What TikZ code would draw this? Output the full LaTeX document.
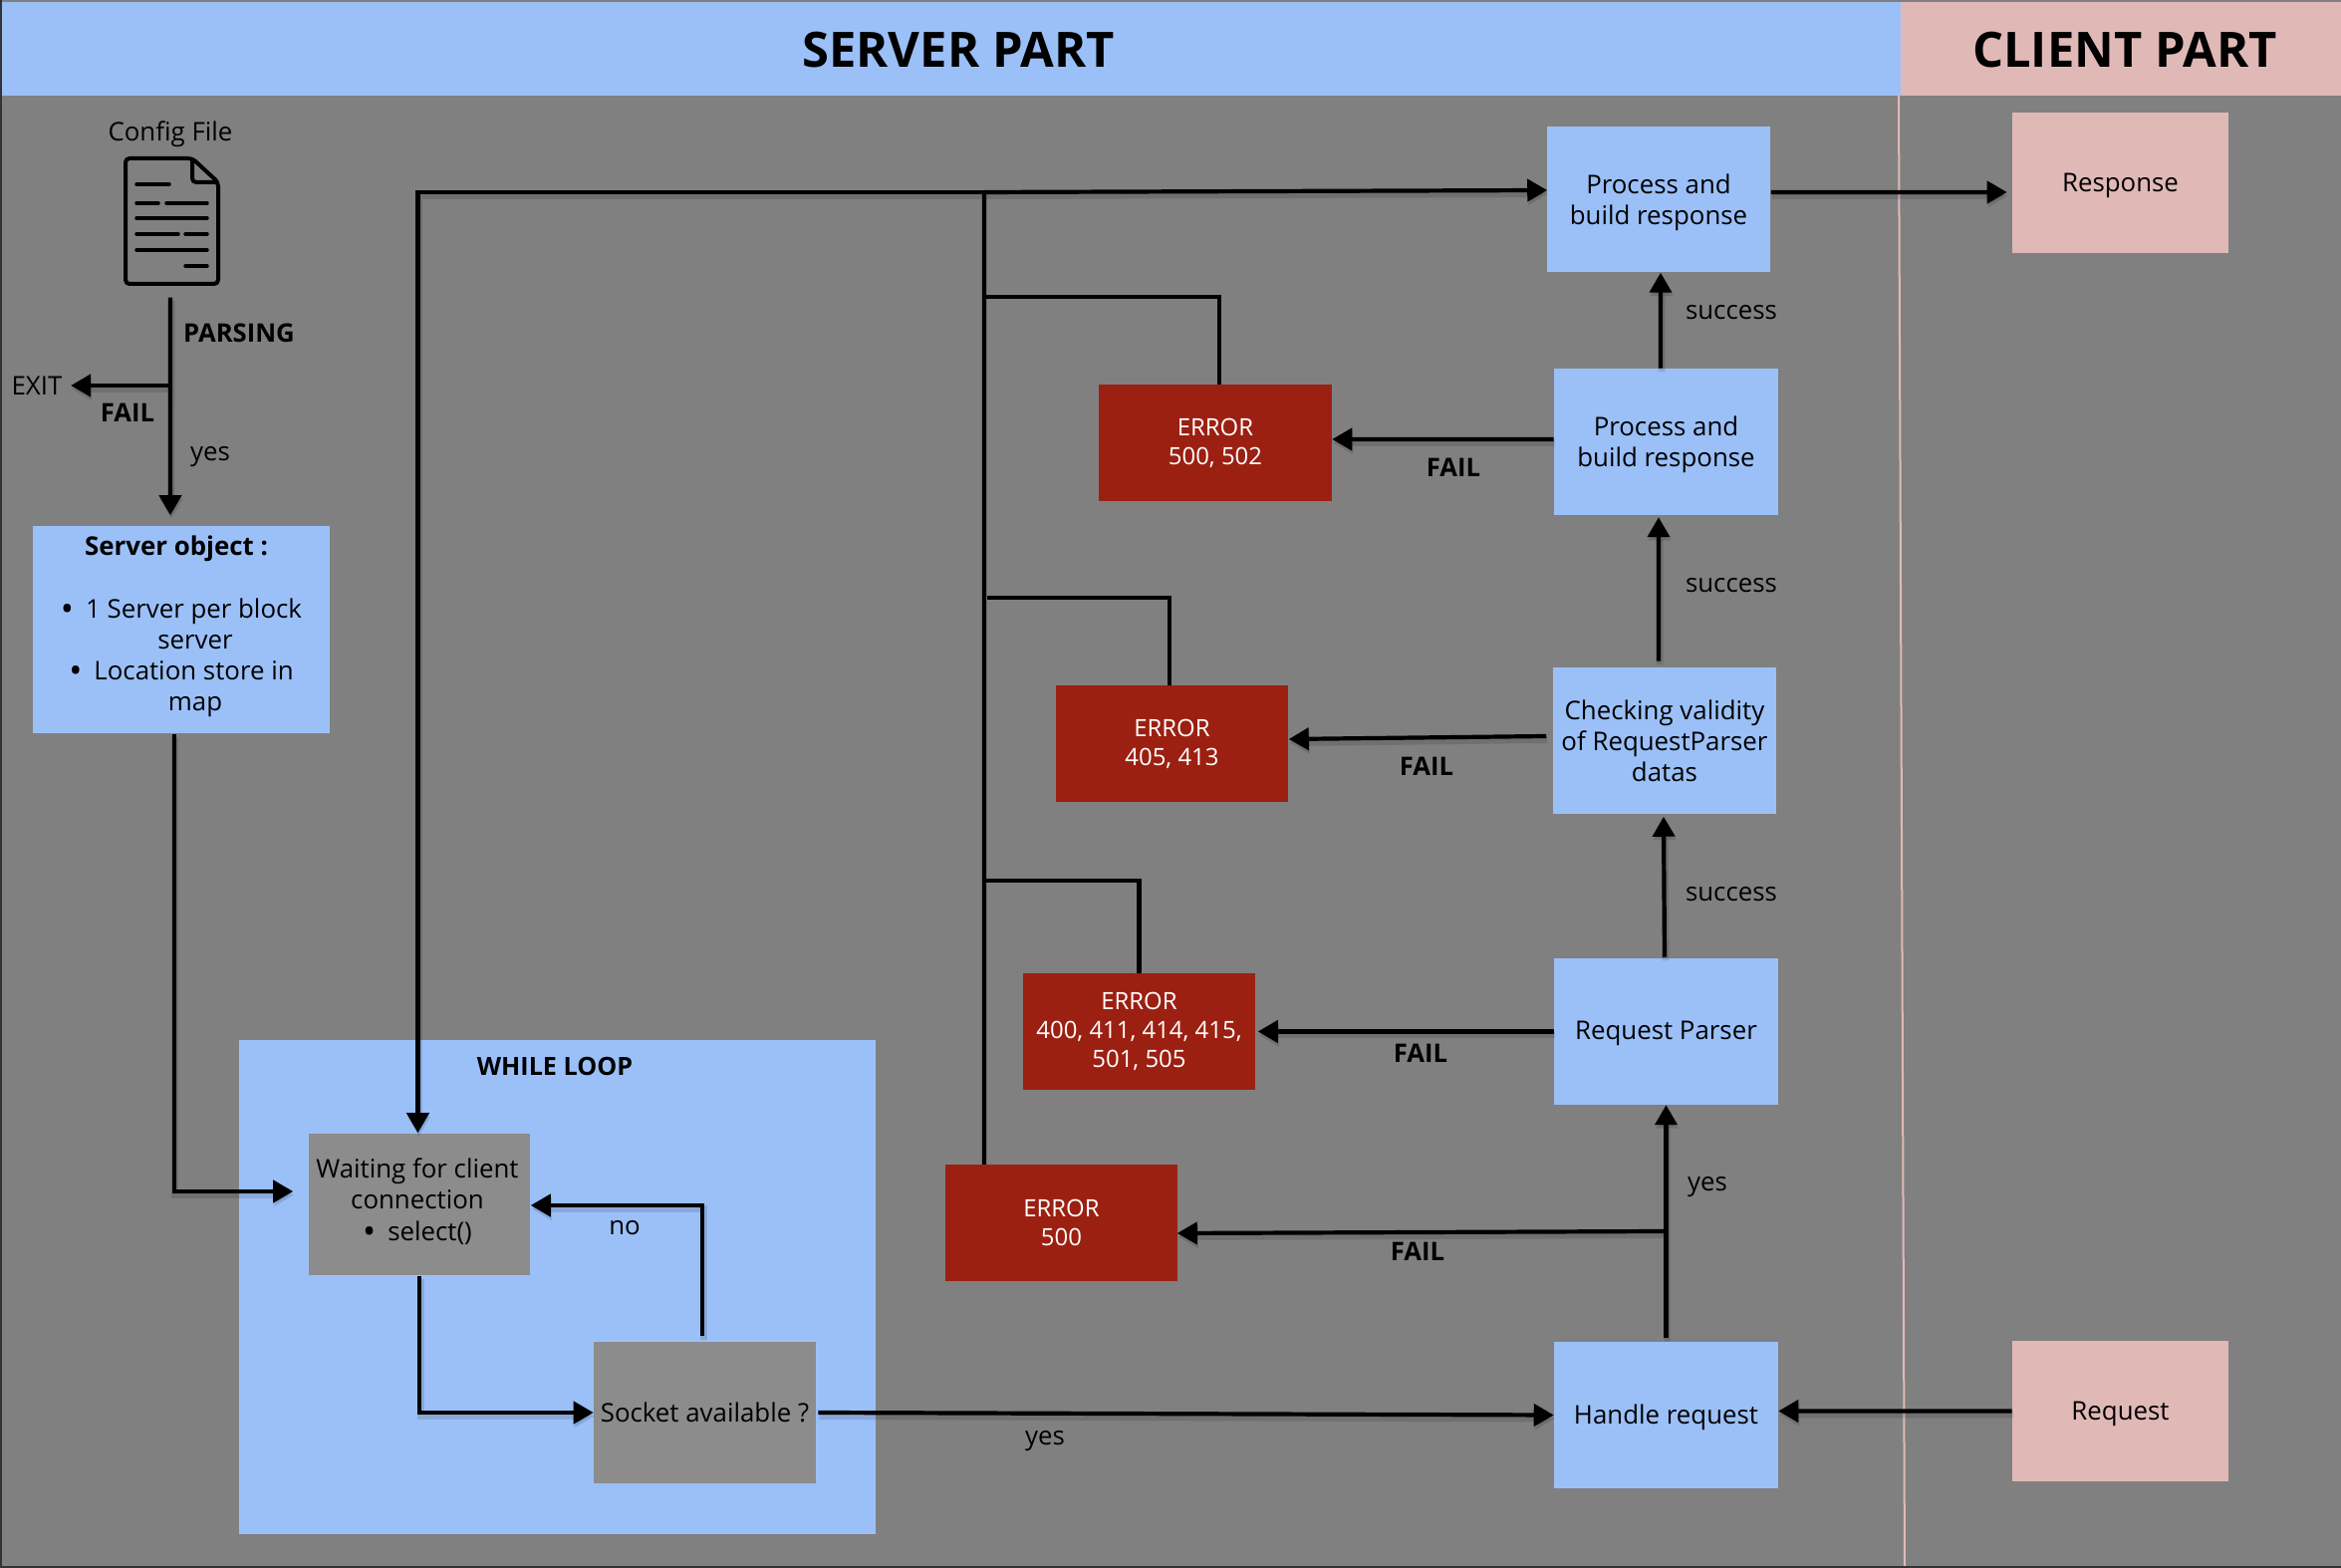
\documentclass[tikz,border=0pt]{standalone}
\usepackage{fontspec}
\setmainfont{Open Sans}
\usetikzlibrary{arrows.meta}

\newcommand{\bigdot}{\raisebox{-0.9pt}{\scalebox{1.35}{\textbullet}}}

\tikzset{
    flow/.style={-{Triangle[length=0.20cm,width=0.22cm]},line width=0.042cm,black,
        preaction={draw=black,opacity=0.12,line width=0.07cm,transform canvas={shift={(0.01cm,-0.035cm)}}}},
    wire/.style={line width=0.042cm,black},
    lbl/.style={inner sep=0pt,text depth=0pt,font=\fontsize{7.35}{8.9}\selectfont},
    boldlbl/.style={inner sep=0pt,font=\fontsize{7.3}{8.9}\selectfont\bfseries},
    head/.style={inner sep=0pt,font=\fontsize{13.9}{16}\selectfont\bfseries},
    proc/.style={fill=tab_head,inner sep=0pt,align=center,minimum width=2.24cm,minimum height=1.46cm,text depth=0pt,font=\fontsize{7.35}{8.9}\selectfont},
    errbox/.style={fill=tab_err,text=white,inner sep=0pt,align=center,minimum width=2.33cm,minimum height=1.16cm,font=\fontsize{6.8}{8.3}\selectfont},
    client/.style={fill=tab_client,inner sep=0pt,align=center,minimum width=2.16cm,minimum height=1.40cm,text depth=0pt,font=\fontsize{7.35}{8.9}\selectfont},
    waitbox/.style={fill=tab_wait,inner sep=0pt,align=center,minimum width=2.22cm,minimum height=1.42cm,font=\fontsize{7.35}{8.9}\selectfont},
}

\begin{document}
\begin{tikzpicture}[x=0.01cm,y=-0.01cm]
    \definecolor{tab_bg}{HTML}{808080}
    \definecolor{tab_head}{HTML}{9BC0F8}
    \definecolor{tab_client}{HTML}{E0B9B7}
    \definecolor{tab_err}{HTML}{9C2012}
    \definecolor{tab_wait}{HTML}{8C8C8C}
    \useasboundingbox (0,0) rectangle (2350,1574);
    \path[fill=tab_bg] (0,0) rectangle (2350,1574);
    \path[fill=tab_head] (0,2) rectangle (1908,96);
    \path[fill=tab_client] (1908,2) rectangle (2350,96);
    \path[fill=tab_head] (240,1044) rectangle (879,1540);
    \draw[tab_client,line width=0.02cm] (1906,96) -- (1912,1574);
    \draw[black!80,line width=0.04cm] (0,0) -- (0,1574) -- (2350,1574);

    \node[head] (server_part) at (962,50) {SERVER PART};
    \node[head] (client_part) at (2133,50) {CLIENT PART};
    \node[boldlbl,font=\fontsize{7.15}{8.9}\selectfont\bfseries] (while_loop) at (557,1071) {WHILE LOOP};

    % config file icon
    \node[lbl] (config) at (171,132) {Config File};
    \node[minimum width=0.97cm,minimum height=1.30cm,inner sep=0pt] (icon) at (172.5,222) {};
    \draw[line width=0.04cm,rounded corners=0.04cm,line join=round] (193,159) -- (126,159) -- (126,285) -- (219,285) -- (219,183) -- cycle;
    \draw[line width=0.04cm,rounded corners=0.04cm] (193,159) -- (193,183) -- (219,183);
    \foreach \xa/\xb/\ya in {137/170/185,137/159/204,167/208/204,137/208/219,137/179/235,186/208/235,137/208/251,186/208/267}
        \draw[line width=0.035cm,line cap=round] (\xa,\ya) -- (\xb,\ya);

    % server side boxes
    \node[proc,minimum width=2.98cm,minimum height=2.08cm] (server) at (182,632) {};
    \node[lbl,align=center] (server_text) at ([yshift=0.06cm]server.center) {%
        \hspace*{-0.1cm}\textbf{Server object :}\\[0.31cm]
        \bigdot\hspace{0.12cm}1 Server per block\\
        \hspace*{0.28cm}server\\
        \bigdot\hspace{0.12cm}Location store in\\
        \hspace*{0.28cm}map};
    \node[waitbox] (waiting) at (421,1209) {};
    \node[lbl,align=center] (waiting_text) at ([xshift=-0.02cm,yshift=0.05cm]waiting.center) {Waiting for client\\connection\\\bigdot\hspace{0.12cm}select()};
    \node[waitbox] (socket) at (707.5,1418) {Socket available ?};

    \node[proc] (process1) at (1665,200) {Process and\\build response};
    \node[proc] (process2) at (1672.5,443.5) {Process and\\build response};
    \node[proc] (checking) at (1671,743.5) {Checking validity\\of RequestParser\\datas};
    \node[proc,text depth=0.5pt] (parser) at (1672.5,1035.5) {Request Parser};
    \node[proc,text depth=0.5pt] (handle) at (1672.5,1420.5) {Handle request};

    \node[client] (response) at (2128.5,183.5) {Response};
    \node[client] (request) at (2128.5,1416.5) {Request};

    \node[errbox] (err502) at (1220,444.5) {ERROR\\500, 502};
    \node[errbox] (err405) at (1176.5,746.5) {ERROR\\405, 413};
    \node[errbox] (err400) at (1143.5,1035.5) {ERROR\\400, 411, 414, 415,\\501, 505};
    \node[errbox] (err500) at (1065.5,1227.5) {ERROR\\500};

    \node[lbl] (exit) at (37,387) {EXIT};
    \coordinate (exit_join) at (171,387);
    \coordinate (bus_top) at (988,193);
    \coordinate (bus_502) at (988,298);
    \coordinate (bus_405) at (991,600);
    \coordinate (bus_400) at (986,884);
    \coordinate (handle_join) at (1672,1236);

    % parsing
    \draw[flow] ([xshift=-0.015cm,yshift=-0.11cm]icon.south) -- ([xshift=-0.11cm,yshift=0.10cm]server.north);
    \draw[flow,shorten >=0.08cm] (exit_join) -- (exit.east);
    \draw[flow] ([xshift=-0.07cm]server.south) |- ([xshift=-0.15cm,yshift=0.13cm]waiting.west);

    % while loop
    \draw[flow] (waiting.south) |- (socket.west);
    \draw[flow] ([xshift=-0.025cm,yshift=0.05cm]socket.north) |- ([yshift=-0.01cm]waiting.east);
    \draw[flow] ([xshift=0.02cm]socket.east) -- (handle.west);

    % error bus
    \draw[wire] ([xshift=-0.775cm]err500.north) -- (bus_top);
    \draw[flow] (bus_top) -- ([xshift=0.01cm,yshift=0.09cm]process1.west);
    \draw[flow] (bus_top) -| ([xshift=-0.015cm]waiting.north);
    \draw[wire] ([xshift=0.04cm]err502.north) |- (bus_502);
    \draw[wire] ([xshift=-0.025cm]err405.north) |- (bus_405);
    \draw[wire] (err400.north) |- (bus_400);

    % request path
    \draw[flow] (request.west) -- ([yshift=0.04cm]handle.east);
    \draw[flow] ([yshift=0.04cm]handle.north) -- (parser.south);
    \draw[flow] ([xshift=-0.015cm,yshift=0.01cm]parser.north) -- ([xshift=-0.01cm,yshift=-0.025cm]checking.south);
    \draw[flow] ([xshift=-0.06cm,yshift=0.06cm]checking.north) -- ([xshift=-0.075cm,yshift=-0.02cm]process2.south);
    \draw[flow] ([xshift=-0.055cm]process2.north) -- ([xshift=0.02cm]process1.south);
    \draw[flow] ([yshift=0.07cm]process1.east) -- ([xshift=-0.05cm,yshift=-0.095cm]response.west);

    % fail arrows
    \draw[flow] ([yshift=0.025cm]process2.west) -- ([yshift=0.035cm]err502.east);
    \draw[flow] ([xshift=-0.06cm,yshift=0.045cm]checking.west) -- ([yshift=0.045cm]err405.east);
    \draw[flow] (parser.west) -- ([xshift=0.02cm]err400.east);
    \draw[flow] (handle_join) -- ([xshift=-0.01cm,yshift=-0.105cm]err500.east);

    \node[lbl] (yes_parse) at (211,455) {yes};
    \node[boldlbl] (parsing) at (240,334) {PARSING};
    \node[boldlbl] (fail_exit) at (128,414) {FAIL};
    \node[lbl] (no_socket) at (627,1232) {no};
    \node[lbl] (yes_socket) at (1049,1443) {yes};
    \node[lbl] (yes_handle) at (1714,1188) {yes};
    \node[lbl] (ok_process) at (1738,313.5) {success};
    \node[lbl] (ok_check) at (1738,587.5) {success};
    \node[lbl] (ok_parser) at (1738,897.5) {success};
    \node[boldlbl] (fail_process) at (1459,469) {FAIL};
    \node[boldlbl] (fail_check) at (1432,769) {FAIL};
    \node[boldlbl] (fail_parser) at (1426,1057) {FAIL};
    \node[boldlbl] (fail_handle) at (1423,1256) {FAIL};
\end{tikzpicture}
\end{document}
